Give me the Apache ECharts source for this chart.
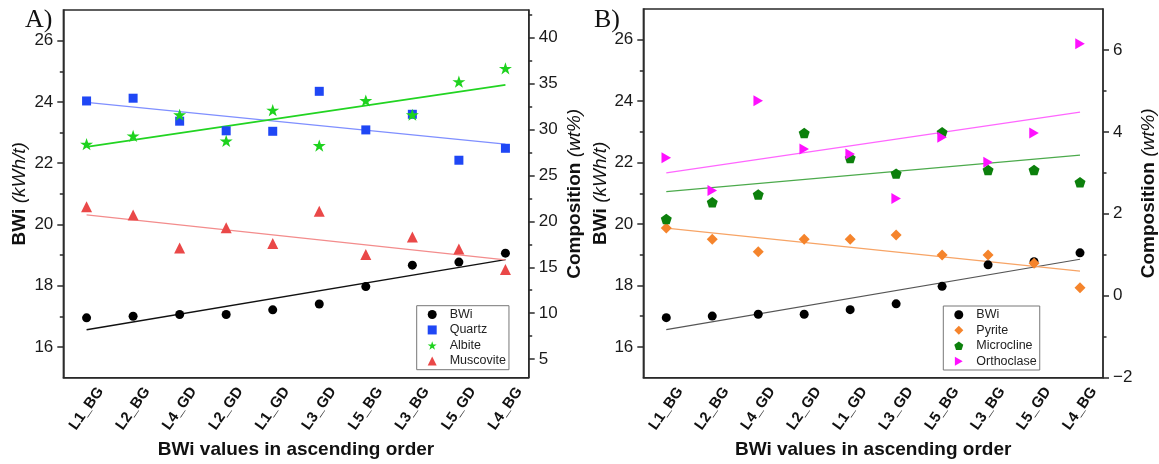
<!DOCTYPE html>
<html>
<head>
<meta charset="utf-8">
<script src="https://cdn.jsdelivr.net/npm/echarts@6/dist/echarts.min.js"></script>
<style>
  html, body { margin: 0; padding: 0; background: #fff; }
  #chart { width: 1159px; height: 464px; }
</style>
</head>
<body>
<div id="chart"></div>
<script>
// Samples ordered by ascending Bond work index
const categories = ['L1_BG', 'L2_BG', 'L4_GD', 'L2_GD', 'L1_GD', 'L3_GD', 'L5_BG', 'L3_BG', 'L5_GD', 'L4_BG'];

// Bond work index, kWh/t (left axis of both panels)
const bwi = [16.95, 17.0, 17.06, 17.06, 17.21, 17.4, 17.97, 18.67, 18.77, 19.06];

// Panel A compositions, wt% (right axis)
const quartz = [33.1, 33.4, 30.9, 29.85, 29.8, 34.15, 29.95, 31.65, 26.65, 27.95];
const albite = [28.4, 29.3, 31.6, 28.75, 32.1, 28.25, 33.15, 31.6, 35.2, 36.65];
const muscovite = [21.6, 20.7, 17.1, 19.3, 17.6, 21.1, 16.4, 18.3, 17.0, 14.75];

// Panel B compositions, wt% (right axis)
const pyrite = [1.65, 1.38, 1.07, 1.38, 1.38, 1.48, 0.99, 0.99, 0.79, 0.19];
const microcline = [1.87, 2.28, 2.47, 3.97, 3.36, 2.98, 3.99, 3.07, 3.07, 2.77];
const orthoclase = [3.37, 2.57, 4.76, 3.58, 3.46, 2.37, 3.87, 3.26, 3.97, 6.15];

// Linear trend lines: value at the first and at the last sample
const bwiTrend = [16.56, 18.85];
const quartzTrend = [32.95, 28.4];
const albiteTrend = [28.1, 34.85];
const muscoviteTrend = [20.7, 15.8];
const pyriteTrend = [1.65, 0.6];
const microclineTrend = [2.54, 3.43];
const orthoclaseTrend = [3.0, 4.48];

// Axis ranges and tick labels
const bwiRange = [15, 27];
const bwiTicks = [16, 18, 20, 22, 24, 26];
const bwiMinor = [17, 19, 21, 23, 25];
const compARange = [3, 43];
const compATicks = [5, 10, 15, 20, 25, 30, 35, 40];
const compAMinor = [7.5, 12.5, 17.5, 22.5, 27.5, 32.5, 37.5, 42.5];
const compBRange = [-2, 7];
const compBTicks = [-2, 0, 2, 4, 6];
const compBMinor = [-1, 1, 3, 5];

const FONT = '"Liberation Sans", Arial, sans-serif';
const INK = '#2a2a2a';

const STAR = 'path://M50,0 L61.8,35.1 L98.9,35.1 L68.9,56.8 L80.3,91.9 L50,70.2 L19.7,91.9 L31.1,56.8 L1.1,35.1 L38.2,35.1 Z';
const PENTAGON = 'path://M50,0 L97.6,34.5 L79.4,90.5 L20.6,90.5 L2.4,34.5 Z';
const RIGHT_TRI = 'path://M0,0 L87,50 L0,100 Z';

function xAxisFor(gridIndex) {
  return {
    type: 'category', gridIndex, data: categories, boundaryGap: true,
    axisLine: { onZero: false, lineStyle: { color: INK, width: 1.5 } },
    axisTick: { alignWithLabel: true, length: 6, lineStyle: { color: INK, width: 1.5 } },
    axisLabel: {
      interval: 0, rotate: 55, align: 'center', verticalAlign: 'middle', margin: 31,
      fontFamily: FONT, fontWeight: 'bold', fontSize: 15, color: '#111'
    },
    splitLine: { show: false },
    name: 'BWi values in ascending order', nameLocation: 'middle', nameGap: 60,
    nameTextStyle: { fontFamily: FONT, fontWeight: 'bold', fontSize: 19, color: '#111' }
  };
}

function nameStyle() {
  return {
    fontFamily: FONT, fontSize: 19, color: '#111',
    rich: {
      b: { fontFamily: FONT, fontSize: 19, fontWeight: 'bold', color: '#111' },
      i: { fontFamily: FONT, fontSize: 19, fontStyle: 'italic', color: '#111' }
    }
  };
}

function majorAxis(gridIndex, position, range, ticks, name, nameGap) {
  return {
    type: 'value', gridIndex, position, min: range[0], max: range[1],
    axisLine: { show: true, onZero: false, lineStyle: { color: INK, width: 1.5 } },
    axisTick: { show: true, customValues: ticks, length: 6, lineStyle: { color: INK, width: 1.5 } },
    axisLabel: {
      customValues: ticks, margin: 10, fontFamily: FONT, fontSize: 17, color: '#1a1a1a',
      formatter: v => (v < 0 ? '\u2212' + Math.abs(v) : String(v))
    },
    splitLine: { show: false },
    name, nameLocation: 'middle', nameRotate: 90, nameGap,
    nameTextStyle: nameStyle()
  };
}

function minorAxis(gridIndex, position, range, ticks) {
  return {
    type: 'value', gridIndex, position, min: range[0], max: range[1],
    axisLine: { show: false, onZero: false },
    axisTick: { show: true, customValues: ticks, length: 3.5, lineStyle: { color: INK, width: 1.5 } },
    axisLabel: { show: false },
    splitLine: { show: false }
  };
}

function scatter(name, xAxisIndex, yAxisIndex, data, symbol, size, color) {
  return {
    type: 'scatter', name, xAxisIndex, yAxisIndex, data, symbol, symbolSize: size,
    symbolKeepAspect: true, itemStyle: { color, opacity: 1 }, z: 3
  };
}

function trend(xAxisIndex, yAxisIndex, ends, color, width) {
  return {
    type: 'line', xAxisIndex, yAxisIndex,
    data: [[0, ends[0]], [categories.length - 1, ends[1]]],
    symbol: 'none', silent: true, z: 2,
    lineStyle: { color, width }
  };
}

function legendFor(names, left, top) {
  return {
    data: names, orient: 'vertical', left, top,
    padding: [1, 3, 1, 11], itemWidth: 9, itemHeight: 9, itemGap: 0,
    borderColor: '#777', borderWidth: 1, backgroundColor: '#fff',
    selectedMode: false,
    textStyle: { fontFamily: FONT, fontSize: 12.5, color: '#222', lineHeight: 15.5, padding: [0, 0, 0, 8] }
  };
}

const titleStyle = { fontFamily: '"Liberation Serif", "Times New Roman", serif', fontSize: 26, fontWeight: 'normal', color: '#111' };

const option = {
  backgroundColor: '#fff',
  animation: false,
  title: [
    { text: 'A)', left: 25, top: 7, padding: 0, textStyle: titleStyle },
    { text: 'B)', left: 594, top: 7, padding: 0, textStyle: titleStyle }
  ],
  grid: [
    { left: 63.3, top: 10, width: 465.4, height: 373.3, show: true, borderColor: INK, borderWidth: 1.3, containLabel: false },
    { left: 643.3, top: 9, width: 461, height: 372, show: true, borderColor: INK, borderWidth: 1.3, containLabel: false }
  ],
  legend: [
    legendFor(['BWi', 'Quartz', 'Albite', 'Muscovite'], 416.7, 305.7),
    legendFor(['BWi', 'Pyrite', 'Microcline', 'Orthoclase'], 943.3, 306)
  ],
  xAxis: [xAxisFor(0), xAxisFor(1)],
  yAxis: [
    majorAxis(0, 'left', bwiRange, bwiTicks, '{b|BWi }{i|(kWh/t)}', 34),
    majorAxis(0, 'right', compARange, compATicks, '{b|Composition }{i|(wt%)}', 37),
    minorAxis(0, 'left', bwiRange, bwiMinor),
    minorAxis(0, 'right', compARange, compAMinor),
    majorAxis(1, 'left', bwiRange, bwiTicks, '{b|BWi }{i|(kWh/t)}', 33),
    majorAxis(1, 'right', compBRange, compBTicks, '{b|Composition }{i|(wt%)}', 36),
    minorAxis(1, 'left', bwiRange, bwiMinor),
    minorAxis(1, 'right', compBRange, compBMinor)
  ],
  series: [
    // Panel A
    trend(0, 0, bwiTrend, '#111', 1.5),
    trend(0, 1, quartzTrend, '#7f8fff', 1.3),
    trend(0, 1, albiteTrend, '#22d422', 1.6),
    trend(0, 1, muscoviteTrend, '#f38c8c', 1.4),
    scatter('BWi', 0, 0, bwi, 'circle', 9, '#000'),
    scatter('Quartz', 0, 1, quartz, 'rect', 9, '#1f47f5'),
    scatter('Albite', 0, 1, albite, STAR, 13, '#1ed21e'),
    scatter('Muscovite', 0, 1, muscovite, 'triangle', 11, '#ea4848'),
    // Panel B
    trend(1, 4, bwiTrend, '#555', 1.1),
    trend(1, 5, pyriteTrend, '#f7a466', 1.3),
    trend(1, 5, microclineTrend, '#4caa4c', 1.2),
    trend(1, 5, orthoclaseTrend, '#ff66ff', 1.3),
    scatter('BWi', 1, 4, bwi, 'circle', 9, '#000'),
    scatter('Pyrite', 1, 5, pyrite, 'diamond', 11, '#f5842c'),
    scatter('Microcline', 1, 5, microcline, PENTAGON, 11, '#0c800c'),
    scatter('Orthoclase', 1, 5, orthoclase, RIGHT_TRI, 11, '#ff10ff')
  ]
};

const chart = echarts.init(document.getElementById('chart'), null, { renderer: 'canvas' });
chart.setOption(option);
</script>
</body>
</html>
